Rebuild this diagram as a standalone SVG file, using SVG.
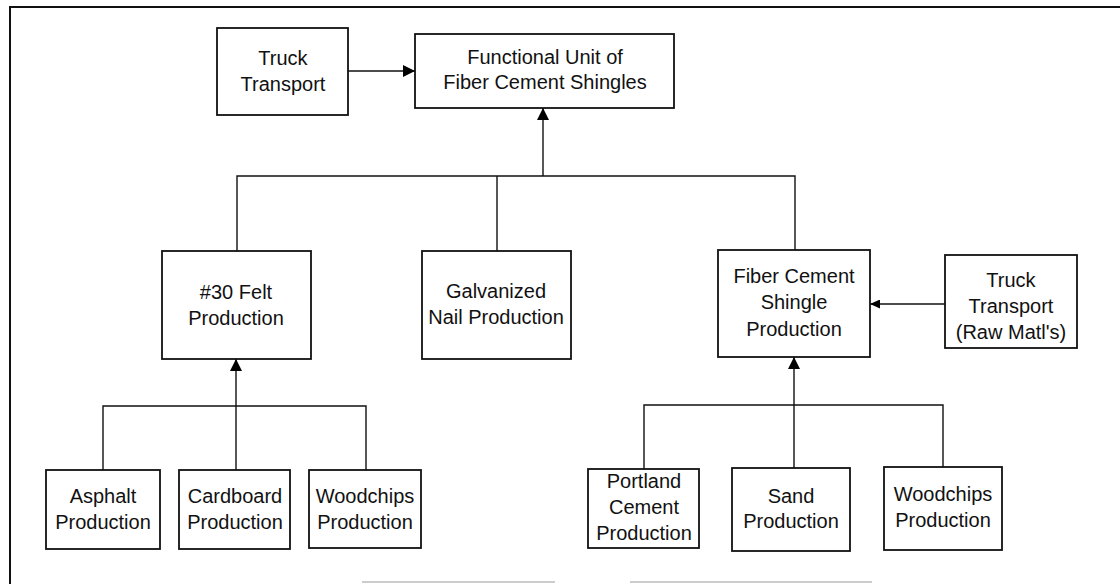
<svg xmlns="http://www.w3.org/2000/svg" width="1120" height="584" viewBox="0 0 1120 584">
  <defs>
    <marker id="arrow" viewBox="0 0 12 12" refX="12" refY="6" markerWidth="12" markerHeight="12" markerUnits="userSpaceOnUse" orient="auto">
      <path d="M0,0 L12,6 L0,12 Z" fill="#000"/>
    </marker>
    <marker id="arrow-sm" viewBox="0 0 10 9" refX="10" refY="4.5" markerWidth="10" markerHeight="9" markerUnits="userSpaceOnUse" orient="auto">
      <path d="M0,0 L10,4.5 L0,9 Z" fill="#000"/>
    </marker>
    <style>
      .box { fill: #fff; stroke: #111; stroke-width: 1.8; }
      .lbl { font-family: "Liberation Sans", Arial, sans-serif; font-size: 20px; fill: #111; text-anchor: middle; }
      .wire { fill: none; stroke: #111; stroke-width: 1.4; }
      .frame { fill: none; stroke: #111; stroke-width: 2; }
      .frame-faint { fill: none; stroke: #999; stroke-width: 1.2; }
    </style>
  </defs>

  <rect width="1120" height="584" fill="#fff"/>

  <!-- page frame (top and left edges, faint bottom rule) -->
  <g id="frame">
    <path class="frame" d="M10,584 L10,7 L1120,7"/>
    <path class="frame-faint" d="M362,582 L555,582 M630,582 L872,582"/>
  </g>

  <!-- connectors -->
  <g id="connectors">
    <path class="wire" d="M348,71 L415,71" marker-end="url(#arrow)"/>
    <path class="wire" d="M237,251 L237,176 L795,176 L795,250 M497,176 L497,251"/>
    <path class="wire" d="M543,176 L543,108" marker-end="url(#arrow)"/>
    <path class="wire" d="M945,304 L870,304" marker-end="url(#arrow-sm)"/>
    <path class="wire" d="M103,470 L103,406 L366,406 L366,470 M236,470 L236,406"/>
    <path class="wire" d="M236,406 L236,359" marker-end="url(#arrow)"/>
    <path class="wire" d="M644,469 L644,405 L943,405 L943,467 M794,405 L794,468"/>
    <path class="wire" d="M794,405 L794,357" marker-end="url(#arrow)"/>
  </g>

  <g id="truck-transport">
    <rect class="box" x="217" y="28" width="131" height="87"/>
    <text class="lbl" x="283" y="65">Truck</text>
    <text class="lbl" x="283" y="91">Transport</text>
  </g>

  <g id="functional-unit">
    <rect class="box" x="415" y="34" width="259" height="74"/>
    <text class="lbl" x="545" y="64">Functional Unit of</text>
    <text class="lbl" x="545" y="89">Fiber Cement Shingles</text>
  </g>

  <g id="felt-production">
    <rect class="box" x="162" y="251" width="149" height="108"/>
    <text class="lbl" x="236" y="299">#30 Felt</text>
    <text class="lbl" x="236" y="325">Production</text>
  </g>

  <g id="nail-production">
    <rect class="box" x="422" y="251" width="149" height="108"/>
    <text class="lbl" x="496" y="298">Galvanized</text>
    <text class="lbl" x="496" y="324">Nail Production</text>
  </g>

  <g id="shingle-production">
    <rect class="box" x="718" y="250" width="152" height="107"/>
    <text class="lbl" x="794" y="283">Fiber Cement</text>
    <text class="lbl" x="794" y="309">Shingle</text>
    <text class="lbl" x="794" y="336">Production</text>
  </g>

  <g id="truck-raw">
    <rect class="box" x="945" y="255" width="132" height="93"/>
    <text class="lbl" x="1011" y="287">Truck</text>
    <text class="lbl" x="1011" y="313">Transport</text>
    <text class="lbl" x="1011" y="339">(Raw Matl's)</text>
  </g>

  <g id="asphalt">
    <rect class="box" x="46" y="470" width="114" height="79"/>
    <text class="lbl" x="103" y="503">Asphalt</text>
    <text class="lbl" x="103" y="529">Production</text>
  </g>

  <g id="cardboard">
    <rect class="box" x="179" y="470" width="111" height="79"/>
    <text class="lbl" x="235" y="503">Cardboard</text>
    <text class="lbl" x="235" y="529">Production</text>
  </g>

  <g id="woodchips-felt">
    <rect class="box" x="309" y="470" width="112" height="78"/>
    <text class="lbl" x="365" y="503">Woodchips</text>
    <text class="lbl" x="365" y="529">Production</text>
  </g>

  <g id="portland-cement">
    <rect class="box" x="588" y="469" width="111" height="79"/>
    <text class="lbl" x="644" y="488">Portland</text>
    <text class="lbl" x="644" y="514">Cement</text>
    <text class="lbl" x="644" y="540">Production</text>
  </g>

  <g id="sand">
    <rect class="box" x="732" y="468" width="118" height="83"/>
    <text class="lbl" x="791" y="503">Sand</text>
    <text class="lbl" x="791" y="528">Production</text>
  </g>

  <g id="woodchips-shingle">
    <rect class="box" x="884" y="467" width="118" height="83"/>
    <text class="lbl" x="943" y="501">Woodchips</text>
    <text class="lbl" x="943" y="527">Production</text>
  </g>
</svg>
